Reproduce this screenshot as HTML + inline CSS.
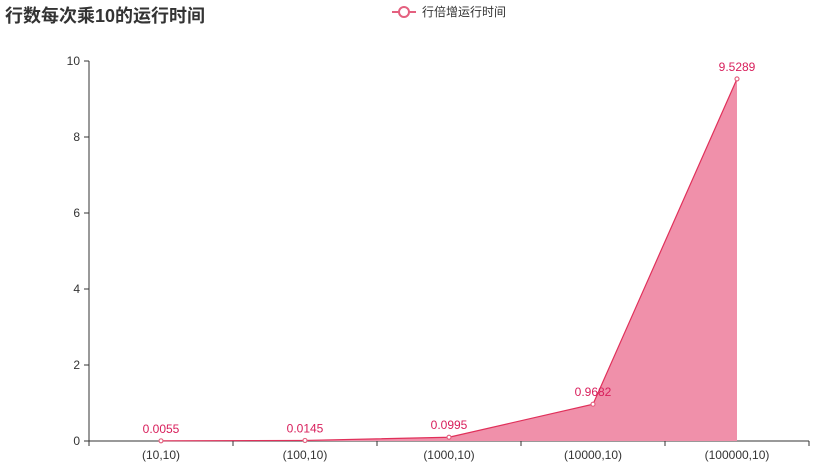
<!DOCTYPE html>
<html><head><meta charset="utf-8"><style>
body{margin:0;background:#fff;}
svg text{font-family:"Liberation Sans","Noto Sans CJK SC",sans-serif;}
</style></head><body>
<svg width="820" height="466">
<text x="5" y="22" font-size="18" font-weight="bold" fill="#333">行数每次乘10的运行时间</text>
<g>
<line x1="392" y1="12" x2="416" y2="12" stroke="#e4607f" stroke-width="2"/>
<circle cx="404" cy="12" r="5" fill="#fff" stroke="#e4607f" stroke-width="2"/>
<text x="422" y="16" font-size="12" fill="#333">行倍增运行时间</text>
</g>
<g id="axes"></g><g id="series"></g>
</svg>
<script>
const categories=["(10,10)","(100,10)","(1000,10)","(10000,10)","(100000,10)"];
const values=[0.0055,0.0145,0.0995,0.9682,9.5289];
const yTicks=[0,2,4,6,8,10];
const ns="http://www.w3.org/2000/svg";
const X0=89,X1=809,Y0=441,Y1=61;
const bw=(X1-X0)/categories.length;
const xs=i=>X0+bw*(i+0.5);
const ys=v=>Y0-(v/10)*(Y0-Y1);
function mk(t,a,p){const e=document.createElementNS(ns,t);for(const k in a)e.setAttribute(k,a[k]);p.appendChild(e);return e;}
const ax=document.getElementById('axes'),se=document.getElementById('series');
const yl=mk('line',{x1:X0,y1:Y0,x2:X0,y2:Y1,stroke:'#333'},ax);


yTicks.forEach(t=>{const y=ys(t);
mk('line',{x1:X0-5,y1:y,x2:X0,y2:y,stroke:'#333'},ax);
const tx=mk('text',{x:X0-9,y:y+4,'font-size':12,'text-anchor':'end',fill:'#333'},ax);tx.textContent=t;

});
const xl=mk('line',{x1:X0,y1:Y0,x2:X1,y2:Y0,stroke:'#333'},ax);


for(let i=0;i<=categories.length;i++)mk('line',{x1:X0+bw*i,y1:Y0,x2:X0+bw*i,y2:Y0+5,stroke:'#333'},ax);
categories.forEach((c,i)=>{const tx=mk('text',{x:xs(i),y:Y0+18,'font-size':12,'text-anchor':'middle',fill:'#333'},ax);tx.textContent=c;

});
const pts=values.map((v,i)=>xs(i)+','+ys(v));
const area=mk('polygon',{points:xs(0)+','+Y0+' '+pts.join(' ')+' '+xs(values.length-1)+','+Y0,fill:'#f090aa'},se);


const ln=mk('polyline',{points:pts.join(' '),fill:'none',stroke:'#e0305a','stroke-width':1.2},se);


values.forEach((v,i)=>{const c=mk('circle',{cx:xs(i),cy:ys(v),r:2,fill:'#fff',stroke:'#e4607f','stroke-width':1.2},se);


const t=mk('text',{x:xs(i),y:ys(v)-8,'font-size':12,'text-anchor':'middle',fill:'#d81e5b'},se);t.textContent=v;

});
</script>
</body></html>
